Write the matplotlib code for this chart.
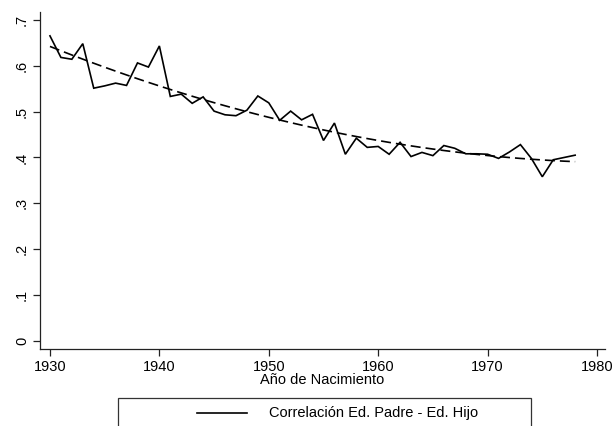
import numpy as np
import matplotlib
matplotlib.use("Agg")
import matplotlib.pyplot as plt
from matplotlib.patches import Rectangle
from matplotlib.lines import Line2D

plt.rcParams['font.family'] = ['Liberation Sans', 'DejaVu Sans']

years = list(range(1930, 1979))
corr = [0.665, 0.618, 0.614, 0.648, 0.551, 0.556, 0.562, 0.557, 0.606, 0.597,
        0.643, 0.533, 0.538, 0.518, 0.532, 0.501, 0.493, 0.491, 0.503, 0.534,
        0.519, 0.481, 0.501, 0.482, 0.494, 0.437, 0.475, 0.407, 0.442, 0.422,
        0.424, 0.407, 0.433, 0.402, 0.411, 0.404, 0.426, 0.420, 0.408, 0.408,
        0.407, 0.398, 0.412, 0.428, 0.398, 0.358, 0.395, 0.400, 0.405]
xticks = [1930, 1940, 1950, 1960, 1970, 1980]
yticks = [0, 0.1, 0.2, 0.3, 0.4, 0.5, 0.6, 0.7]
ytick_labels = ["0", ".1", ".2", ".3", ".4", ".5", ".6", ".7"]
xlabel = "Año de Nacimiento"
legend_label = "Correlación Ed. Padre - Ed. Hijo"

W, H = 615, 426
fig = plt.figure(figsize=(W / 100, H / 100), dpi=100)
left, right, top, bottom = 40, 605, 12, 349
ax = fig.add_axes([left / W, (H - bottom) / H, (right - left) / W, (bottom - top) / H])

yrs = np.array(years, dtype=float)
vals = np.array(corr)
coef = np.polyfit(yrs - 1930, vals, 2)
trend = np.polyval(coef, yrs - 1930)

line, = ax.plot(yrs, vals, color='black', lw=1.2, solid_joinstyle='miter')
ax.plot(yrs, trend, color='black', lw=1.2, linestyle=(0, (6, 3)))

ax.set_xlim(1929.09, 1980.73)
ax.set_ylim(-0.0174, 0.717)
ax.set_xticks(xticks)
ax.set_yticks(yticks)
ax.set_yticklabels(ytick_labels, rotation=90, va='center')
for s in ['top', 'right']:
    ax.spines[s].set_visible(False)
for s in ['left', 'bottom']:
    ax.spines[s].set_linewidth(0.9)
    ax.spines[s].set_color('#222222')
ax.tick_params(direction='out', length=5, width=0.9, color='#222222', labelsize=10.5, pad=3)
ax.set_xlabel(xlabel, fontsize=10.5, labelpad=-1)

# legend box
fig.patches.append(Rectangle((118 / W, (H - 440) / H), (531 - 118) / W, 42 / H,
                             transform=fig.transFigure, fill=False, edgecolor='#333333', lw=0.9))
fig.lines.append(Line2D([197 / W, 247 / W], [(H - 413) / H] * 2, transform=fig.transFigure,
                        color='black', lw=1.2))
fig.text(269 / W, (H - 413) / H, legend_label, fontsize=10.5, va='center', ha='left')

fig.savefig("out.png", dpi=100)
